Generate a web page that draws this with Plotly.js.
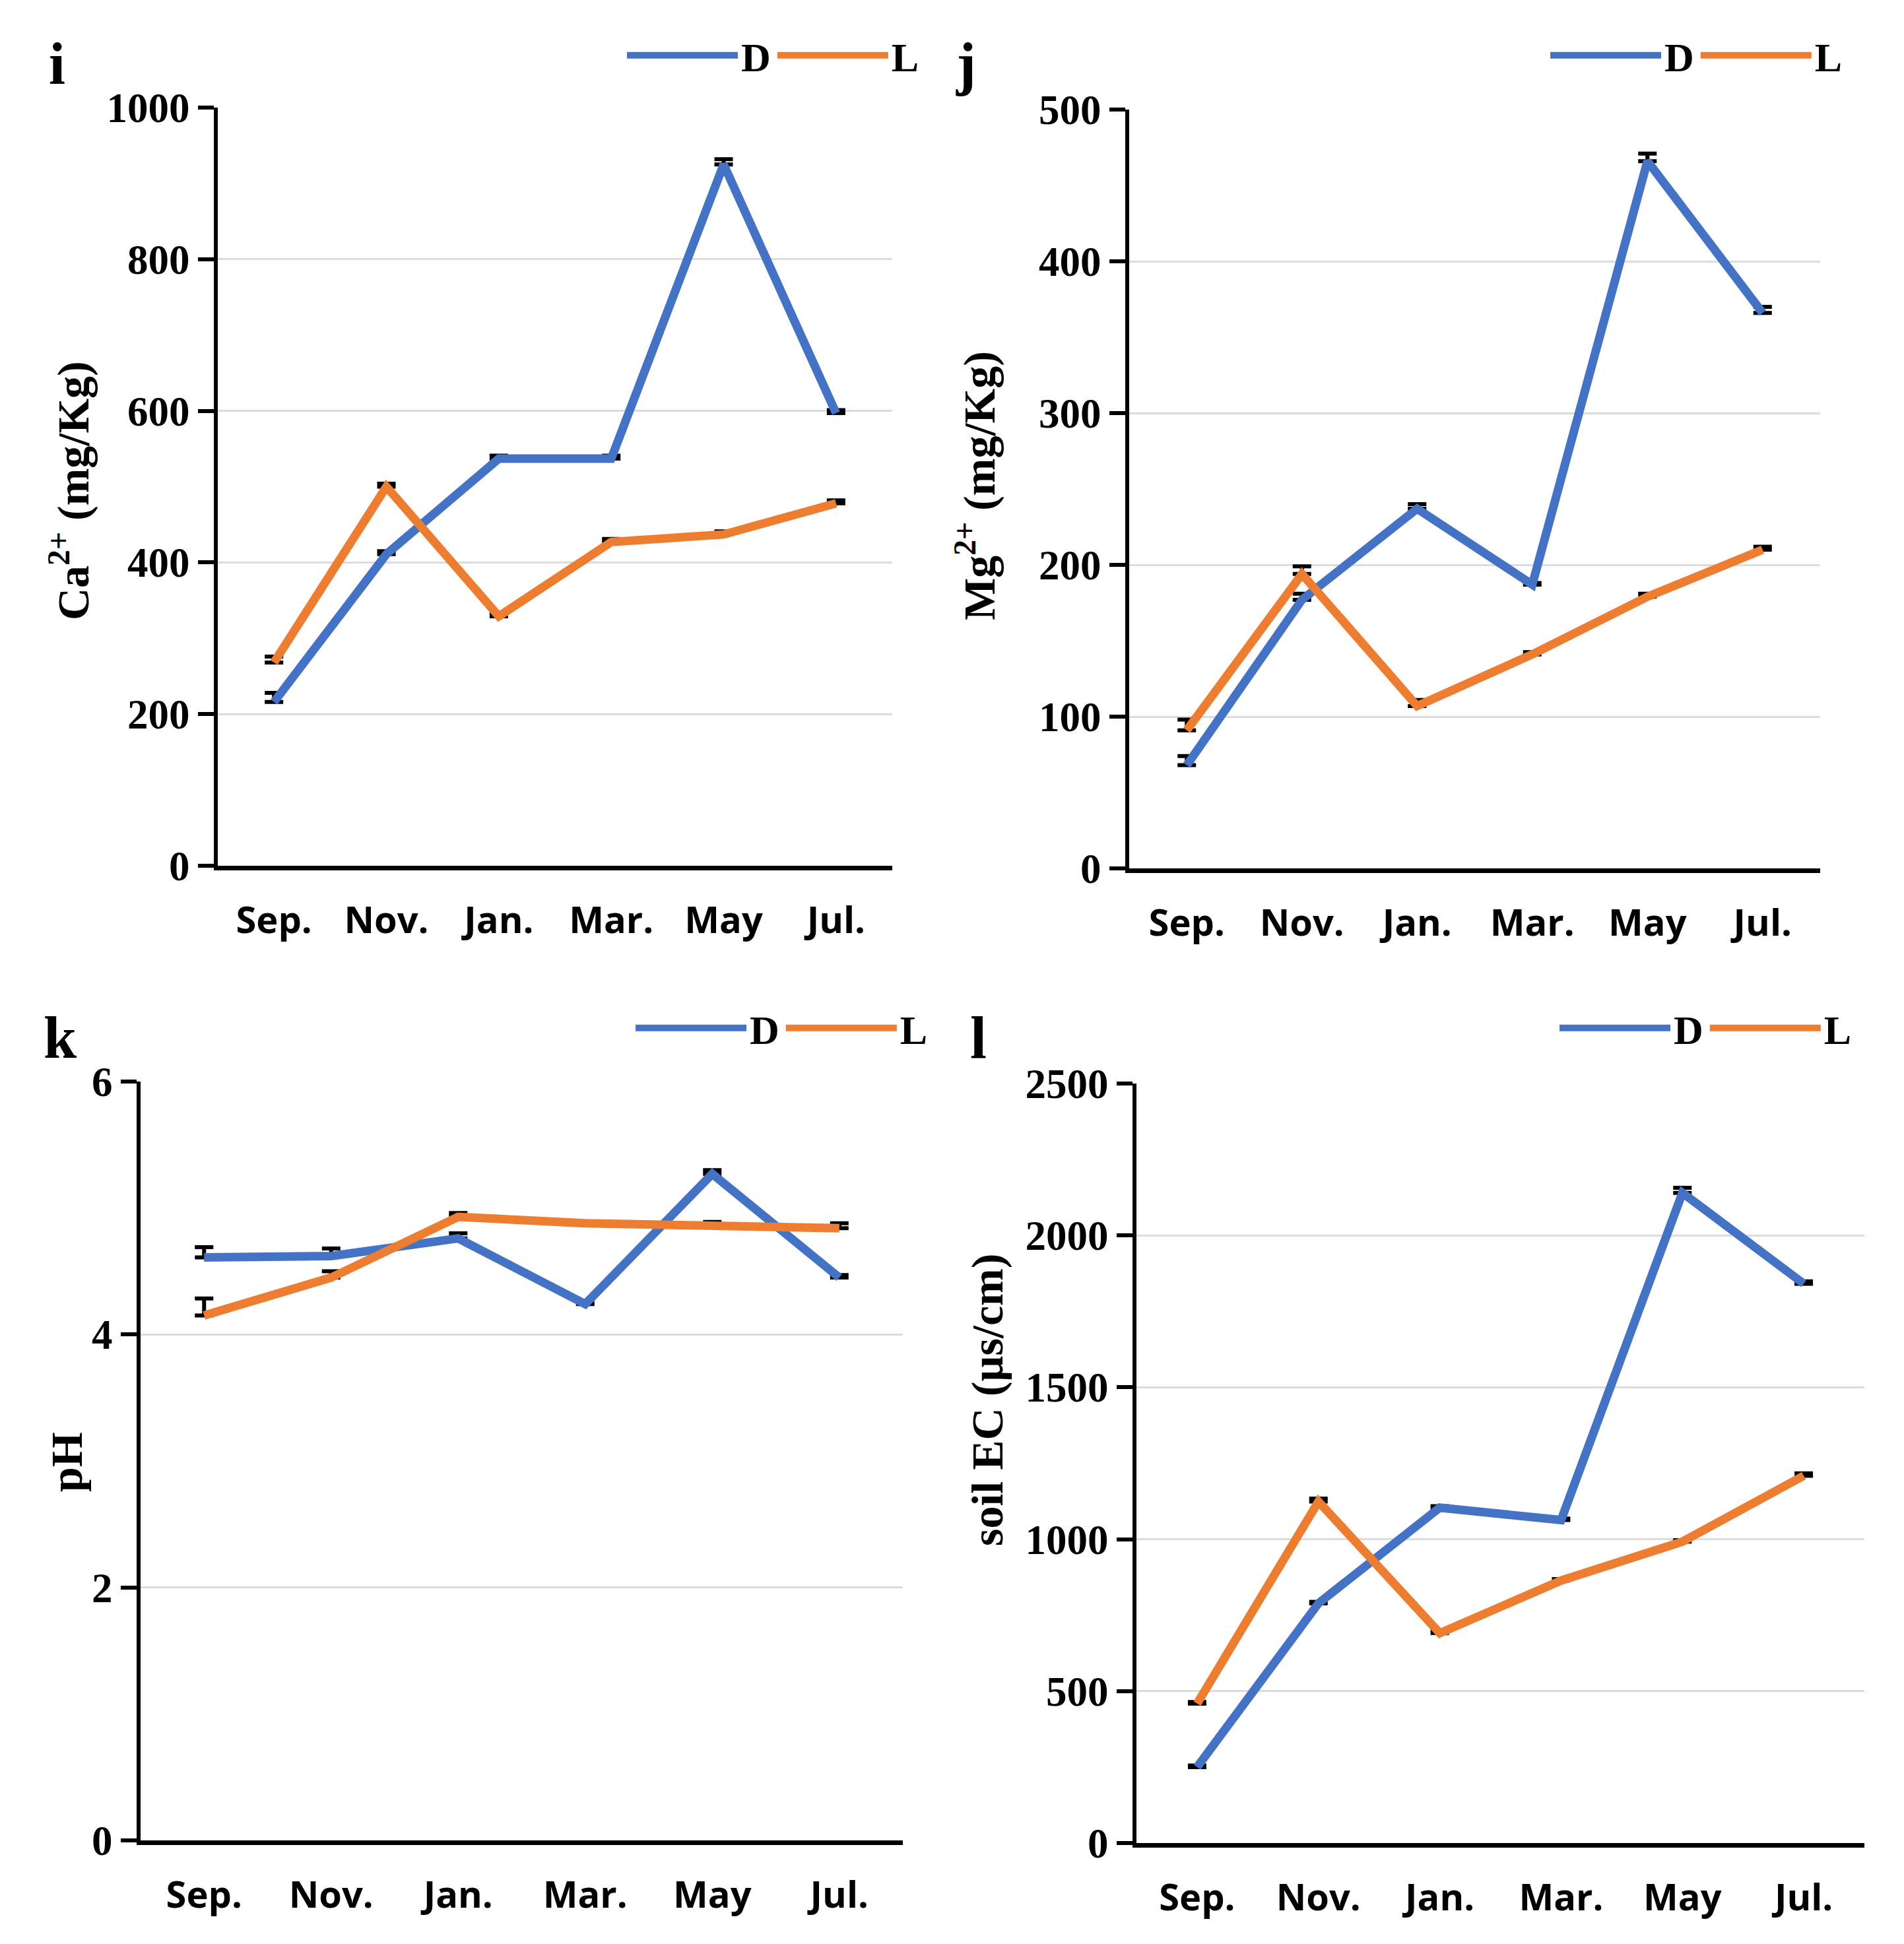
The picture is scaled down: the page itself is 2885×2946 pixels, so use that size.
<!DOCTYPE html>
<html>
<head>
<meta charset="utf-8">
<script src="https://cdn.plot.ly/plotly-3.0.1.min.js"></script>
<style>html,body{margin:0;padding:0;background:#fff;}#chart{width:2885px;height:2946px;}</style>
</head>
<body>
<div id="chart"></div>
<script>
// ---------- data ----------
const months = ["Sep.", "Nov.", "Jan.", "Mar.", "May", "Jul."];
const seriesNames = ["D", "L"];

const caD = [216, 411, 537, 537, 925, 597];
const caDerr = [12, 4, 4, 4, 7, 4];
const caL = [268, 500, 329, 427, 437, 478];
const caLerr = [8, 4, 3, 4, 4, 4];

const mgD = [68, 177, 237, 187, 466, 366];
const mgDerr = [6, 4, 3, 1, 5, 4];
const mgL = [91, 194, 107, 141, 179, 210];
const mgLerr = [7, 5, 4, 1.5, 2, 2];

const phD = [4.61, 4.62, 4.76, 4.24, 5.27, 4.45];
const phDerr = [0.08, 0.06, 0.04, 0.01, 0.03, 0.02];
const phL = [4.15, 4.45, 4.93, 4.88, 4.86, 4.84];
const phLerr = [0.135, 0.05, 0.03, 0.01, 0.03, 0.04];

const ecD = [250, 789, 1104, 1063, 2140, 1841];
const ecDerr = [5, 5, 5, 5, 17, 8];
const ecL = [459, 1124, 691, 864, 992, 1209];
const ecLerr = [5, 10, 5, 5, 5, 8];

const panelLetters = ["i", "j", "k", "l"];
const yTitles = ["Ca<sup>2+</sup> (mg/Kg)", "Mg<sup>2+</sup> (mg/Kg)", "pH", "soil EC (µs/cm)"];
const yRanges = [[0, 1000], [0, 500], [0, 6], [0, 2500]];
const yDticks = [200, 100, 2, 500];

// ---------- layout geometry (pixels) ----------
const W = 2885, H = 2946;
const BLUE = "#4472C4", ORANGE = "#ED7D31";
const SERIF = "Liberation Serif, Times New Roman, serif";
const SANS = "Open Sans, Noto Sans, sans-serif";

const panels = [
  {x0: 330, x1: 1352, y0: 163, y1: 1312, D: caD, De: caDerr, L: caL, Le: caLerr,
   letter: [86, 97], title: [106, 744], legend: [945, 84]},
  {x0: 1711, x1: 2758, y0: 166, y1: 1316, D: mgD, De: mgDerr, L: mgL, Le: mgLerr,
   letter: [1463, 97], title: [1479, 736], legend: [2344, 84]},
  {x0: 213, x1: 1368, y0: 1639, y1: 2789, D: phD, De: phDerr, L: phL, Le: phLerr,
   letter: [91, 1572], title: [101, 2216], legend: [958, 1558]},
  {x0: 1722, x1: 2825, y0: 1642, y1: 2793, D: ecD, De: ecDerr, L: ecL, Le: ecLerr,
   letter: [1482, 1573], title: [1496, 2122], legend: [2358, 1558]}
];

const data = [];
const layout = {
  width: W, height: H,
  margin: {l: 0, r: 0, t: 0, b: 0},
  paper_bgcolor: "#ffffff",
  plot_bgcolor: "rgba(0,0,0,0)",
  showlegend: true,
  annotations: []
};

panels.forEach((p, i) => {
  const n = i === 0 ? "" : String(i + 1);
  const xa = "x" + n, ya = "y" + n;
  const lg = "legend" + n;
  const vals = [[p.D, p.De, BLUE], [p.L, p.Le, ORANGE]];
  vals.forEach((v, k) => {
    data.push({
      type: "scatter", mode: "lines",
      x: months, y: v[0], name: seriesNames[k],
      xaxis: xa, yaxis: ya, legend: lg,
      line: {color: v[2], width: 13},
      error_y: {type: "data", symmetric: false, array: v[1], arrayminus: v[1].map(() => 0),
                color: "#000000", thickness: 6, width: 14},
      hoverinfo: "skip"
    });
  });
  layout["xaxis" + n] = {
    domain: [p.x0 / W, p.x1 / W], anchor: ya,
    type: "category", range: [-0.5, 5.5],
    showline: true, linecolor: "#000", linewidth: 7,
    ticks: "", showgrid: false, zeroline: false,
    tickfont: {family: SANS, size: 56, color: "#000", weight: 700},
    ticklabelstandoff: 28, fixedrange: true
  };
  layout["yaxis" + n] = {
    domain: [1 - p.y1 / H, 1 - p.y0 / H], anchor: xa,
    range: yRanges[i], dtick: yDticks[i], tick0: 0,
    showline: true, linecolor: "#000", linewidth: 6,
    ticks: "outside", ticklen: 24, tickwidth: 6, tickcolor: "#000",
    showgrid: true, gridcolor: "#dcdcdc", gridwidth: 3, zeroline: false,
    tickfont: {family: SERIF, size: 63, color: "#000", weight: 700},
    fixedrange: true
  };
  layout[lg] = {
    x: p.legend[0] / W, y: 1 - p.legend[1] / H, xanchor: "left", yanchor: "middle",
    orientation: "h", bgcolor: "rgba(0,0,0,0)", borderwidth: 0,
    font: {family: SERIF, size: 62, color: "#000", weight: 700},
    itemwidth: 168, traceorder: "normal"
  };
  layout.annotations.push({
    xref: "paper", yref: "paper", x: p.letter[0] / W, y: 1 - p.letter[1] / H,
    xanchor: "center", yanchor: "middle", showarrow: false,
    text: panelLetters[i], font: {family: SERIF, size: 90, color: "#000", weight: 700}
  });
  layout.annotations.push({
    xref: "paper", yref: "paper", x: p.title[0] / W, y: 1 - p.title[1] / H,
    xanchor: "center", yanchor: "middle", showarrow: false, textangle: -90,
    text: yTitles[i], font: {family: SERIF, size: 68, color: "#000", weight: 700}
  });
});

Plotly.newPlot("chart", data, layout, {staticPlot: true, displayModeBar: false});
</script>
</body>
</html>
